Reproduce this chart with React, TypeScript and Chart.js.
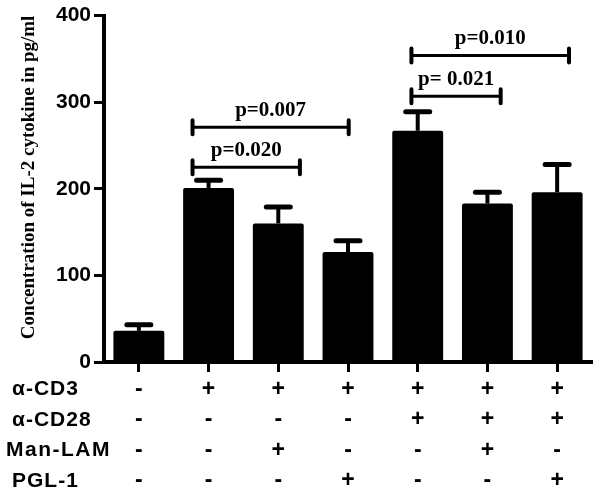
import { useEffect, useRef } from "react";
import { Chart, registerables } from "chart.js";

Chart.register(...registerables);

// ---- data ----
const groups = ["G1", "G2", "G3", "G4", "G5", "G6", "G7"];
const il2Mean = [36, 201, 160, 127, 267, 183, 196];
const il2Err = [7, 9, 19, 13, 22, 13, 32];

const rowNames = ["α-CD3", "α-CD28", "Man-LAM", "PGL-1"];
const cd3 = ["-", "+", "+", "+", "+", "+", "+"];
const cd28 = ["-", "-", "-", "-", "+", "+", "+"];
const manLam = ["-", "-", "+", "-", "-", "+", "-"];
const pgl1 = ["-", "-", "-", "+", "-", "-", "+"];

const yTicks = [0, 100, 200, 300, 400];

// significance brackets: start/end in category-index units, height in data units
const bracketLabels = ["p=0.020", "p=0.007", "p= 0.021", "p=0.010"];
const bracketFrom = [0.77, 0.77, 3.91, 3.91];
const bracketTo = [2.31, 3.01, 5.19, 6.17];
const bracketY = [225, 271, 307, 354];

const yTitle = "Concentration of IL-2 cytokine in pg/ml";

const SANS = "'Liberation Sans', Arial, sans-serif";
const SERIF = "'Liberation Serif', 'Times New Roman', serif";

const TICK_LEN = 10;
const TICK_PAD = 2;
const ROW_LH = 30.5;

const overlayPlugin = {
  id: "overlay",
  afterDatasetsDraw(chart: any) {
    const ctx = chart.ctx;
    const x = chart.scales.x;
    const y = chart.scales.y;
    const meta = chart.getDatasetMeta(0);
    ctx.save();
    ctx.strokeStyle = "#000";
    ctx.fillStyle = "#000";
    // error bars
    meta.data.forEach((bar: any, i: number) => {
      const px = bar.x;
      const yb = y.getPixelForValue(il2Mean[i]);
      const yt = y.getPixelForValue(il2Mean[i] + il2Err[i]);
      ctx.lineCap = "butt";
      ctx.lineWidth = 4;
      ctx.beginPath();
      ctx.moveTo(px, yb);
      ctx.lineTo(px, yt);
      ctx.stroke();
      ctx.lineCap = "round";
      ctx.lineWidth = 5;
      ctx.beginPath();
      ctx.moveTo(px - 12, yt);
      ctx.lineTo(px + 12, yt);
      ctx.stroke();
    });
    // brackets
    bracketLabels.forEach((lab, i) => {
      const x1 = x.getPixelForValue(bracketFrom[i]);
      const x2 = x.getPixelForValue(bracketTo[i]);
      const yy = y.getPixelForValue(bracketY[i]);
      ctx.lineCap = "butt";
      ctx.lineWidth = 3;
      ctx.beginPath();
      ctx.moveTo(x1, yy);
      ctx.lineTo(x2, yy);
      ctx.stroke();
      ctx.lineCap = "round";
      ctx.lineWidth = 4;
      ctx.beginPath();
      ctx.moveTo(x1, yy - 7);
      ctx.lineTo(x1, yy + 7);
      ctx.moveTo(x2, yy - 7);
      ctx.lineTo(x2, yy + 7);
      ctx.stroke();
      ctx.font = `bold 21px ${SERIF}`;
      ctx.textAlign = "center";
      ctx.textBaseline = "alphabetic";
      ctx.fillText(lab, (x1 + x2) / 2, yy - 11);
    });
    // row labels of the condition table
    ctx.font = `bold 21px ${SANS}`;
    ctx.textAlign = "left";
    ctx.textBaseline = "middle";
    const top = x.top + TICK_LEN + TICK_PAD;
    rowNames.forEach((name, r) => {
      const isMan = name.startsWith("Man");
      const lx = isMan ? 6 : 12;
      (ctx as any).letterSpacing = isMan ? "1.5px" : "1px";
      ctx.fillText(name, lx, top + ROW_LH * (r + 0.5));
    });
    (ctx as any).letterSpacing = "0px";
    ctx.restore();
  },
};

export default function App() {
  const ref = useRef<HTMLCanvasElement>(null);
  useEffect(() => {
    if (!ref.current) return;
    const labels = groups.map((_, i) => [cd3[i], cd28[i], manLam[i], pgl1[i]]);
    const chart = new Chart(ref.current, {
      type: "bar",
      data: {
        labels,
        datasets: [
          {
            data: il2Mean,
            backgroundColor: "#000",
            borderWidth: 0,
            borderRadius: 2,
            barPercentage: 0.73,
            categoryPercentage: 1,
          },
        ],
      },
      options: {
        animation: false,
        responsive: false,
        layout: { padding: { top: 15, right: 8, left: 0, bottom: 0 } },
        plugins: { legend: { display: false }, tooltip: { enabled: false } },
        scales: {
          x: {
            grid: {
              offset: false,
              drawOnChartArea: false,
              drawTicks: true,
              tickLength: TICK_LEN,
              tickWidth: 3,
              color: "#000",
            },
            border: { display: true, width: 4, color: "#000" },
            ticks: {
              color: "#000",
              padding: TICK_PAD,
              font: { family: SANS, size: 23, weight: "bold", lineHeight: ROW_LH / 23 },
              maxRotation: 0,
              autoSkip: false,
            },
            afterFit: (s: any) => {
              s.height = 132;
            },
          },
          y: {
            min: 0,
            max: 400,
            afterBuildTicks: (s: any) => {
              s.ticks = yTicks.map((v) => ({ value: v }));
            },
            grid: {
              drawOnChartArea: false,
              drawTicks: true,
              tickLength: TICK_LEN,
              tickWidth: 3,
              color: "#000",
            },
            border: { display: true, width: 4, color: "#000" },
            ticks: {
              color: "#000",
              padding: 3,
              font: { family: SANS, size: 21, weight: "bold" },
            },
            title: {
              display: true,
              text: yTitle,
              align: "end",
              color: "#000",
              font: { family: SERIF, size: 19, weight: "bold" },
              padding: { top: 18, bottom: 0 },
            },
            afterFit: (s: any) => {
              s.width = 104;
            },
          },
        },
      },
      plugins: [overlayPlugin],
    });
    return () => chart.destroy();
  }, []);
  return (
    <div style={{ position: "fixed", left: 0, top: 0, width: 600, height: 494, background: "#fff" }}>
      <canvas ref={ref} width={600} height={494} />
    </div>
  );
}
